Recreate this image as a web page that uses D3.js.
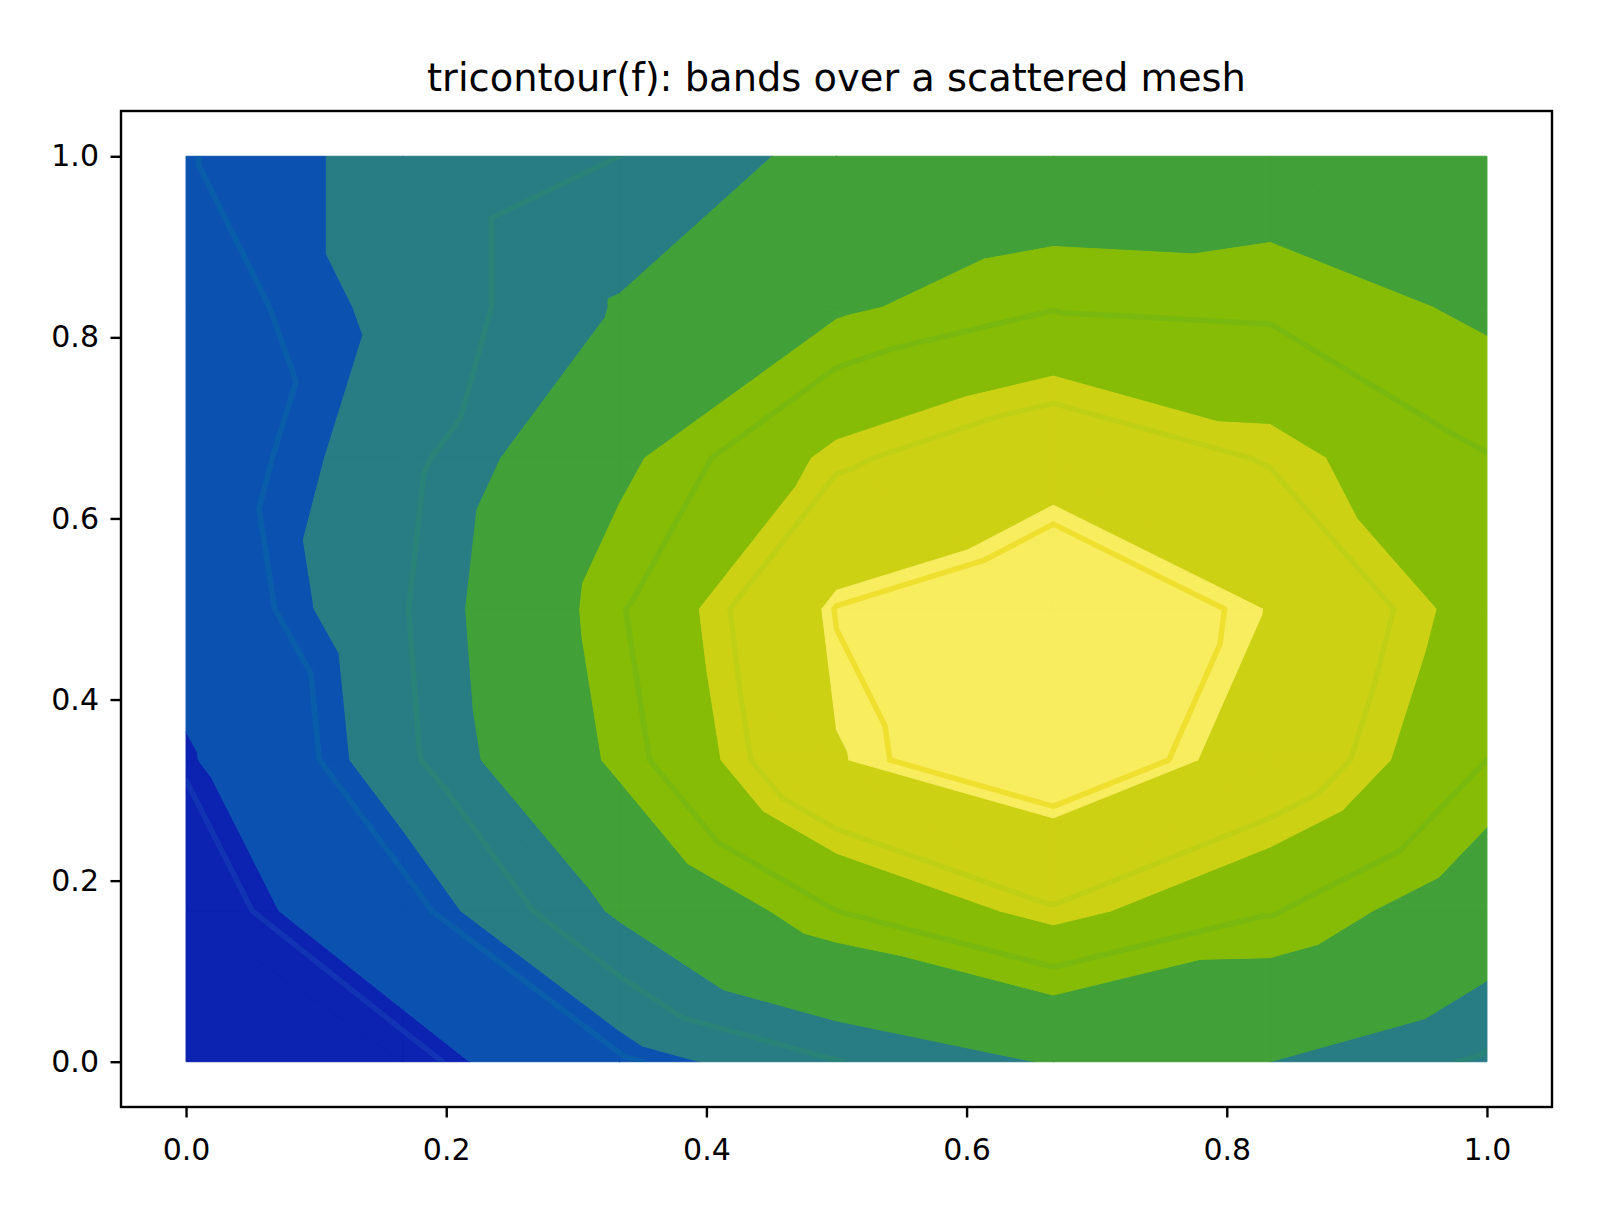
<!DOCTYPE html>
<html>
<head>
<meta charset="utf-8">
<script src="https://cdn.jsdelivr.net/npm/d3@7"></script>
<style>
  body { margin: 0; background: #fff; }
  svg text { font-family: "DejaVu Sans", sans-serif; fill: #000; }
</style>
</head>
<body>
<div id="chart"></div>
<script>
// mesh nodes
var meshX = [0, 1/6, 2/6, 3/6, 4/6, 5/6, 1];
var meshY = [0, 1/6, 2/6, 3/6, 4/6, 5/6, 1];

// field value at every node, one row per meshY value (bottom row first)
var zRow0 = [0.20, 0.68, 1.72, 2.48, 3.05, 3.00, 2.42];
var zRow1 = [0.55, 1.60, 3.10, 4.40, 5.20, 4.45, 3.50];
var zRow2 = [0.92, 2.35, 4.15, 5.97, 6.50, 5.75, 4.40];
var zRow3 = [1.35, 2.45, 4.35, 6.12, 6.55, 5.98, 4.70];
var zRow4 = [1.47, 2.30, 3.85, 5.15, 5.75, 5.20, 4.42];
var zRow5 = [1.60, 2.12, 3.05, 3.90, 4.37, 4.30, 3.90];
var zRow6 = [1.78, 2.12, 2.50, 3.21, 3.45, 3.60, 3.75];
var zRows = [zRow0, zRow1, zRow2, zRow3, zRow4, zRow5, zRow6];

// filled bands
var fillLevels = [0, 1, 2, 3, 4, 5, 6, 7];
var fillColors = ["#0c22b0", "#0b52b0", "#287c84", "#41a037", "#86bc06", "#cdd114", "#f8ec5f"];

// contour lines
var lineLevels = [0.87, 1.8, 2.5, 4.4, 5.25, 6.1];
var lineColors = ["#1234b4", "#0a5ea9", "#2a8377", "#79b80e", "#bfd014", "#efe02f"];

var xTicks = [0, 0.2, 0.4, 0.6, 0.8, 1.0];
var yTicks = [0, 0.2, 0.4, 0.6, 0.8, 1.0];

var titleText = "tricontour(f): bands over a scattered mesh";

var svgWidth = 1600;
var svgHeight = 1216;
var margin = { top: 111, bottom: 109, left: 121, right: 48 };

var svg = d3.select("#chart")
  .append("svg")
  .attr("width", svgWidth)
  .attr("height", svgHeight);

var x = d3.scaleLinear().domain([-0.05, 1.05]).range([margin.left, svgWidth - margin.right]);
var y = d3.scaleLinear().domain([-0.05, 1.05]).range([svgHeight - margin.bottom, margin.top]);

// build the node list
var nodes = [];
meshY.forEach(function(yy, j) {
  meshX.forEach(function(xx, i) {
    nodes.push({ x: xx, y: yy, z: zRows[j][i] });
  });
});

var delaunay = d3.Delaunay.from(nodes, d => d.x, d => d.y);
var tris = [];
for (var t = 0; t < delaunay.triangles.length; t += 3) {
  tris.push([nodes[delaunay.triangles[t]], nodes[delaunay.triangles[t + 1]], nodes[delaunay.triangles[t + 2]]]);
}

// keep the part of a polygon above (or below) a level, linear along each edge
function clipLevel(poly, lvl, keepAbove) {
  var out = [];
  for (var i = 0; i < poly.length; i++) {
    var a = poly[i], b = poly[(i + 1) % poly.length];
    var ina = keepAbove ? a.z >= lvl : a.z <= lvl;
    var inb = keepAbove ? b.z >= lvl : b.z <= lvl;
    if (ina) out.push(a);
    if (ina !== inb) {
      var f = (lvl - a.z) / (b.z - a.z);
      out.push({ x: a.x + f * (b.x - a.x), y: a.y + f * (b.y - a.y), z: lvl });
    }
  }
  return out;
}

function polyPath(poly) {
  return "M" + poly.map(p => x(p.x).toFixed(2) + "," + y(p.y).toFixed(2)).join("L") + "Z";
}

// FILLED BANDS
var bandGroup = svg.append("g");
fillColors.forEach(function(col, k) {
  var lo = fillLevels[k], hi = fillLevels[k + 1];
  var d = "";
  tris.forEach(function(tri) {
    var p = clipLevel(tri, lo, true);
    if (p.length < 3) return;
    p = clipLevel(p, hi, false);
    if (p.length < 3) return;
    d += polyPath(p);
  });
  bandGroup.append("path")
    .attr("d", d)
    .attr("fill", col)
    .attr("stroke", col)
    .attr("stroke-width", 1)
    .attr("stroke-linejoin", "round");
});

// CONTOUR LINES
svg.append("clipPath").attr("id", "meshclip")
  .append("rect")
  .attr("x", x(0)).attr("y", y(1))
  .attr("width", x(1) - x(0)).attr("height", y(0) - y(1));

var lineGroup = svg.append("g").attr("clip-path", "url(#meshclip)");
lineLevels.forEach(function(lvl, k) {
  var d = "";
  tris.forEach(function(tri) {
    var pts = [];
    for (var i = 0; i < 3; i++) {
      var a = tri[i], b = tri[(i + 1) % 3];
      if ((a.z < lvl) !== (b.z < lvl)) {
        var f = (lvl - a.z) / (b.z - a.z);
        pts.push([x(a.x + f * (b.x - a.x)), y(a.y + f * (b.y - a.y))]);
      }
    }
    if (pts.length === 2) {
      d += "M" + pts[0][0].toFixed(2) + "," + pts[0][1].toFixed(2) +
           "L" + pts[1][0].toFixed(2) + "," + pts[1][1].toFixed(2);
    }
  });
  lineGroup.append("path")
    .attr("d", d)
    .attr("fill", "none")
    .attr("stroke", lineColors[k])
    .attr("stroke-width", 5.5)
    .attr("stroke-linecap", "round")
    .attr("stroke-linejoin", "round");
});

// AXES
var bottomAxis = d3.axisBottom(x).tickValues(xTicks).tickFormat(d3.format(".1f"))
  .tickSize(10.5).tickSizeOuter(0).tickPadding(21);
var leftAxis = d3.axisLeft(y).tickValues(yTicks).tickFormat(d3.format(".1f"))
  .tickSize(10.5).tickSizeOuter(0).tickPadding(11.5);

var xAxisG = svg.append("g")
  .attr("transform", `translate(0, ${svgHeight - margin.bottom})`)
  .call(bottomAxis);
var yAxisG = svg.append("g")
  .attr("transform", `translate(${margin.left}, 0)`)
  .call(leftAxis);

[xAxisG, yAxisG].forEach(function(g) {
  g.select(".domain").remove();
  g.selectAll(".tick line").attr("stroke", "#000").attr("stroke-width", 2.4);
  g.selectAll(".tick text").attr("font-size", 30).attr("fill", "#000")
    .style("font-family", "'DejaVu Sans', sans-serif");
});

// frame
svg.append("rect")
  .attr("x", margin.left)
  .attr("y", margin.top)
  .attr("width", svgWidth - margin.left - margin.right)
  .attr("height", svgHeight - margin.top - margin.bottom)
  .attr("fill", "none")
  .attr("stroke", "#000")
  .attr("stroke-width", 2.4);

// title
svg.append("text")
  .attr("x", (margin.left + svgWidth - margin.right) / 2)
  .attr("y", 91)
  .attr("text-anchor", "middle")
  .attr("font-size", 38.4)
  .text(titleText);
</script>
</body>
</html>
